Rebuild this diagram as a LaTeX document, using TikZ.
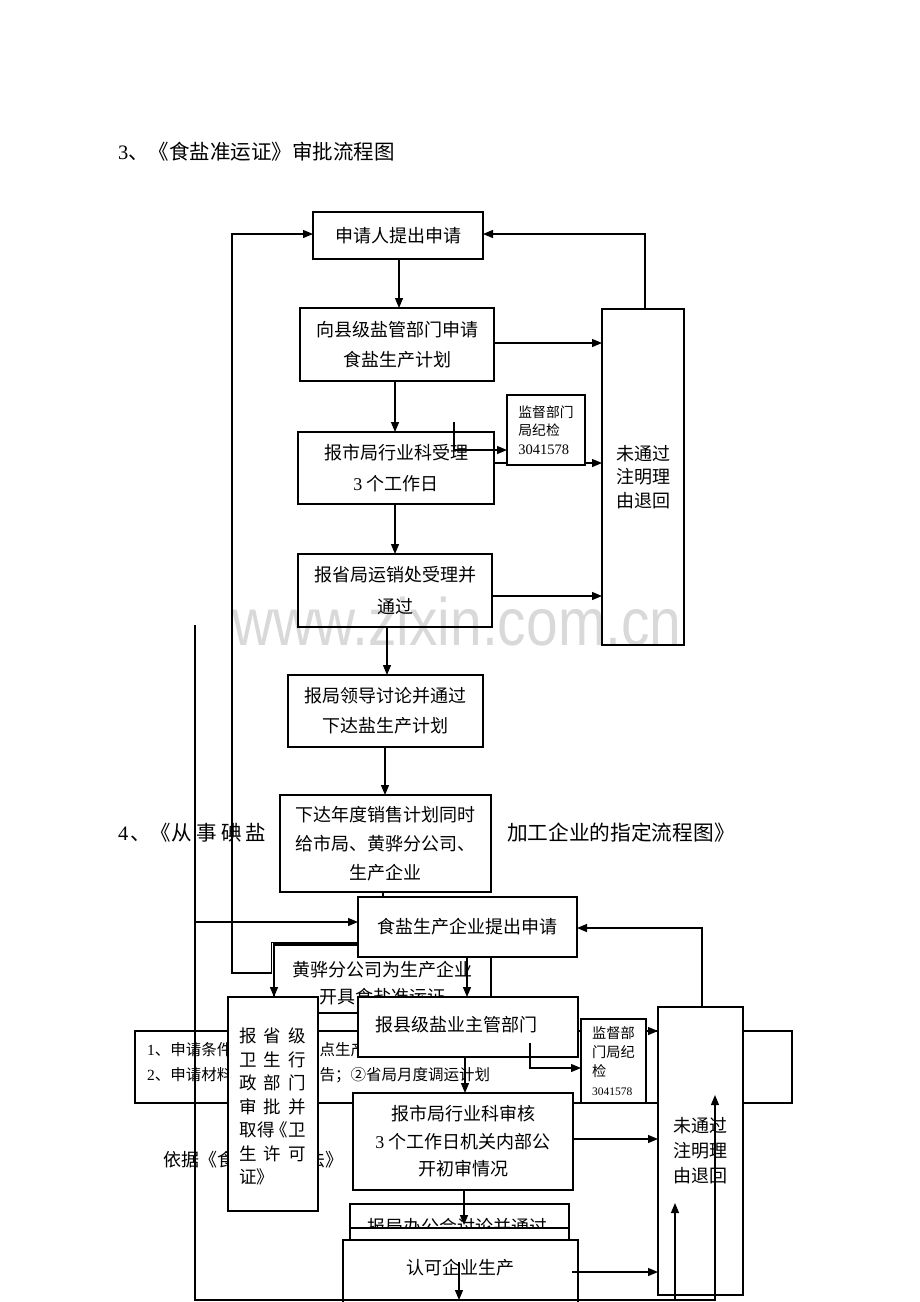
\documentclass[tikz,border=0pt]{standalone}
\usepackage{fontspec}
\usepackage{graphicx}
\setmainfont{Liberation Serif}
\newfontfamily\cjk{Noto Sans CJK SC}
\newfontfamily\wmfont{Liberation Sans}
\usetikzlibrary{arrows.meta,calc}
\newcommand\jrow[3]{\makebox[24.5pt][l]{#1}\makebox[24.5pt][l]{#2}#3}
\newcommand\fs[2]{\fontsize{#1}{#2}\selectfont}
\begin{document}
\begin{tikzpicture}[x=1pt,y=-1pt,
  ln/.style={line width=1.2pt},
  arr/.style={line width=1.2pt,-{Triangle[length=10pt,width=8pt]}},
  box/.style={draw,fill=white,line width=1.2pt,inner sep=0pt,outer sep=0pt,anchor=north west,align=center,font=\cjk\fs{18}{30}},
  txt/.style={inner sep=0pt,outer sep=0pt,font=\cjk\fs{18}{24}},
]
\useasboundingbox[fill=white] (0,0) rectangle (920,1302);

% titles
\node[txt,anchor=west,font=\cjk\fs{20.5}{24}] (t1) at (118,152) {{\rmfamily 3}、《食盐准运证》审批流程图};
\node[txt,anchor=west,font=\cjk\fs{20.5}{24}] (t2a) at (118,833) {\makebox[12pt][l]{\rmfamily 4}\makebox[20pt][l]{、}\makebox[22pt][l]{《}\makebox[25pt][l]{从}\makebox[25pt][l]{事}\makebox[24pt][l]{碘}盐};
\node[txt,anchor=west,font=\cjk\fs{20.7}{24}] (t2b) at (507,833) {加工企业的指定流程图》};

% wide box K (behind)
\node[box,minimum width=657pt,minimum height=72pt] (K) at (135,1031) {};
\node[txt,anchor=west,font=\cjk\fs{15.5}{18}] (k1a) at (147,1050) {{\rmfamily 1}、申请条件};
\node[txt,anchor=west,font=\cjk\fs{15.5}{18}] (k1b) at (319.5,1050) {点生产};
\node[txt,anchor=west,font=\cjk\fs{15.5}{18}] (k2a) at (147,1075) {{\rmfamily 2}、申请材料};
\node[txt,anchor=west,font=\cjk\fs{15.5}{18}] (k2b) at (319.5,1075) {告；②省局月度调运计划};

% basis text
\node[txt,anchor=west] (y1) at (163,1160) {依据《食};
\node[txt,anchor=west] (y2) at (307,1160) {法》};

% H, G, I
\node[box,minimum width=217pt,minimum height=69pt] (H) at (274,944) {};
\node[txt,align=center,font=\cjk\fs{18}{27}] (Ht) at (382.5,983.5) {黄骅分公司为生产企业\\开具食盐准运证};
\node[box,minimum width=219pt,minimum height=60pt] (G) at (358,897) {食盐生产企业提出申请};
\node[box,minimum width=220pt,minimum height=60pt] (I) at (358,997) {};
\node[txt] (It) at (456,1025) {报县级盐业主管部门};

% J
\node[box,minimum width=90pt,minimum height=214pt] (J) at (228,997) {};
\node[txt,anchor=west,font=\cjk\fs{17.5}{20}] (j1) at (239,1036) {\jrow{报}{省}{级}};
\node[txt,anchor=west,font=\cjk\fs{17.5}{20}] (j2) at (239,1059.5) {\jrow{卫}{生}{行}};
\node[txt,anchor=west,font=\cjk\fs{17.5}{20}] (j3) at (239,1083) {\jrow{政}{部}{门}};
\node[txt,anchor=west,font=\cjk\fs{17.5}{20}] (j4) at (239,1106.5) {\jrow{审}{批}{并}};
\node[txt,anchor=west,font=\cjk\fs{17.5}{20}] (j5) at (239,1130) {\makebox[19pt][l]{取}\makebox[19pt][l]{得}\makebox[11pt][r]{《}卫};
\node[txt,anchor=west,font=\cjk\fs{17.5}{20}] (j6) at (239,1153.5) {\jrow{生}{许}{可}};
\node[txt,anchor=west,font=\cjk\fs{17.5}{20}] (j7) at (239,1177) {证》};

% top section boxes
\node[box,minimum width=170pt,minimum height=47pt] (A) at (313,212) {申请人提出申请};
\node[box,minimum width=194pt,minimum height=73pt] (B) at (300,308) {向县级盐管部门申请\\食盐生产计划};
\node[box,minimum width=82pt,minimum height=336pt,font=\cjk\fs{18}{23.5}] (R1) at (602,309) {未通过\\注明理\\由退回};
\node[box,minimum width=196pt,minimum height=72pt,font=\cjk\fs{18}{31}] (C) at (298,432) {报市局行业科受理\\{\rmfamily 3} 个工作日};
\node[box,minimum width=194pt,minimum height=73pt,font=\cjk\fs{18}{32}] (D) at (298,554) {报省局运销处受理并\\通过};
\node[box,minimum width=195pt,minimum height=72pt] (E) at (288,675) {报局领导讨论并通过\\下达盐生产计划};
\node[box,minimum width=211pt,minimum height=97pt,font=\cjk\fs{18}{29}] (F) at (280,795) {下达年度销售计划同时\\给市局、黄骅分公司、\\生产企业};

\draw[arr] (399,0 |- A.south) -- (399,0 |- B.north);
\draw[arr] (B.east |- 0,343) -- (R1.west |- 0,343);
\draw[arr] (395,0 |- B.south) -- (395,0 |- C.north);
\draw[arr] (C.east |- 0,463) -- (R1.west |- 0,463);
\node[box,minimum width=78pt,minimum height=70pt,align=left,font=\cjk\fs{13.8}{18.5}] (S1) at (507,395) {监督部门\\局纪检\\{\rmfamily\fs{14.5}{18.5}3041578}};
\coordinate (s1in) at (454,422);
\draw[arr] (s1in) -- (454,450) -- (S1.west |- 0,450);
\draw[arr] (395,0 |- C.south) -- (395,0 |- D.north);
\draw[arr] (D.east |- 0,596) -- (R1.west |- 0,596);
\draw[arr] (387,0 |- D.south) -- (387,0 |- E.north);
\draw[arr] (385,0 |- E.south) -- (385,0 |- F.north);
\draw[arr] (645,0 |- R1.north) -- (645,234) -- (A.east |- 0,234);

% lower right boxes
\node[box,minimum width=220pt,minimum height=97pt,font=\cjk\fs{18}{27.5}] (L) at (353,1093) {报市局行业科审核\\{\rmfamily 3} 个工作日机关内部公\\开初审情况};
\node[box,minimum width=85pt,minimum height=288pt,font=\cjk\fs{18}{25}] (R2) at (658,1007) {未通过\\注明理\\由退回};
\draw[arr] (I.east |- 0,1031) -- (R2.west |- 0,1031);
\node[box,minimum width=65pt,minimum height=84pt,align=left,font=\cjk\fs{14.2}{19}] (S2) at (581,1019) {监督部\\门局纪\\检\\{\rmfamily\fs{11.5}{19}3041578}};

% M and N
\node[box,minimum width=219pt,minimum height=24pt] (M) at (350,1204) {};
\node[txt] (Mt) at (457,1227) {报局办公会讨论并通过};
\node[box,minimum width=219pt,minimum height=12pt] (Mb) at (350,1228) {};
\node[box,minimum width=235pt,minimum height=80pt] (N) at (343,1240) {};
\node[txt] (Nt) at (460,1268) {认可企业生产};

% connectors lower part
\draw[arr] (G.west |- 0,942.5) -- (271.7,942.5) -- (271.7,973) -- (232,973) -- (232,234) -- (A.west |- 0,234);
\draw[arr] (G.west |- 0,945.5) -- (274,945.5) -- (274,0 |- J.north);
\draw[ln] (383,0 |- F.south) -- (383,0 |- G.north);
\coordinate (lt) at (195,625);
\draw[arr] (lt) -- (195,1300) -- (715,1300) -- (715,1095);
\draw[arr] (675,1300) -- (675,1203);
\draw[arr] (195,922) -- (G.west |- 0,922);
\draw[arr] (702,0 |- R2.north) -- (702,928) -- (G.east |- 0,928);
\draw[arr] (467,0 |- G.south) -- (467,0 |- I.north);
\draw[arr] (530,1043) -- (530,1068) -- (S2.west |- 0,1068);
\draw[arr] (465,0 |- I.south) -- (465,0 |- L.north);
\draw[arr] (L.east |- 0,1139) -- (R2.west |- 0,1139);
\draw[arr] (464,0 |- L.south) -- (464,1225);
\draw[arr] (459,1262) -- (459,1300);
\draw[arr] (572,1272) -- (R2.west |- 0,1272);

% watermark
\node[inner sep=0pt,anchor=base west,text=black,text opacity=0.15,font=\wmfont\fs{67}{67}] (wm) at (232,645) {\scalebox{0.85}[1]{www.zixin.com.cn}};
\end{tikzpicture}
\end{document}
